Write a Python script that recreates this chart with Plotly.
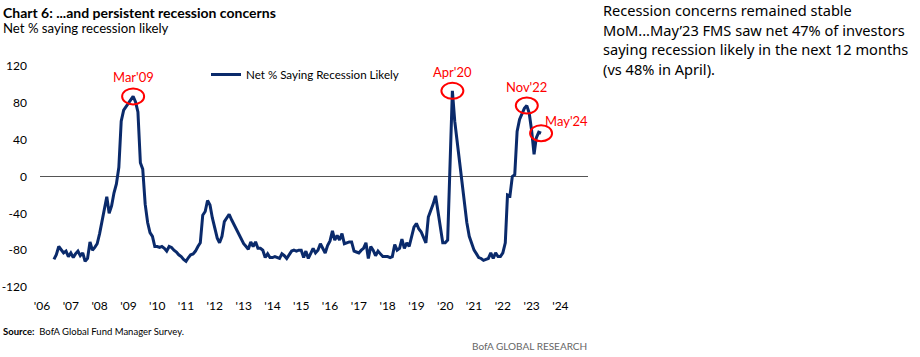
import pandas as pd
import plotly.graph_objects as go

# ---------------- data (monthly, net % saying recession likely) ----------------
start_month = "2006-06-01"
v2006 = [-90, -85, -76, -80, -83, -81, -87]                      # Jun-Dec
v2007 = [-83, -88, -84, -81, -86, -83, -92, -89, -71, -80, -77, -73]
v2008 = [-62, -48, -35, -22, -40, -32, -18, -8, 10, 60, 72, 76]
v2009 = [79, 83, 87, 81, 70, 15, 8, -30, -50, -61, -65, -76]
v2010 = [-76, -77, -76, -78, -81, -76, -77, -80, -82, -85, -87, -90]
v2011 = [-92, -88, -85, -84, -81, -76, -72, -42, -38, -26, -31, -45]
v2012 = [-58, -67, -72, -65, -49, -45, -41, -47, -52, -57, -63, -67]
v2013 = [-73, -76, -79, -71, -76, -71, -78, -78, -80, -88, -84, -88]
v2014 = [-88, -87, -88, -89, -84, -86, -89, -85, -81, -80, -81, -80]
v2015 = [-80, -88, -81, -89, -84, -78, -83, -80, -73, -78, -83, -75]
v2016 = [-70, -59, -69, -64, -69, -62, -73, -72, -71, -71, -81, -82]
v2017 = [-83, -80, -78, -72, -89, -76, -80, -86, -81, -84, -87, -87]
v2018 = [-87, -88, -87, -74, -80, -78, -68, -78, -72, -76, -65, -55]
v2019 = [-51, -57, -60, -66, -72, -44, -38, -30, -21, -40, -55, -72]
v2020 = [-72, -69, 0, 93, 60, 38, 22, -5, -22, -50, -65, -72]
v2021 = [-80, -84, -88, -89, -91, -90, -89, -83, -89, -83, -87, -87]
v2022 = [-83, -72, -20, -21, 0, 2, 49, 62, 68, 74, 77, 69]
v2023 = [50, 24, 42, 48, 47]                                      # Jan-May

values = (v2006 + v2007 + v2008 + v2009 + v2010 + v2011 + v2012 + v2013 + v2014
          + v2015 + v2016 + v2017 + v2018 + v2019 + v2020 + v2021 + v2022 + v2023)
dates = pd.date_range(start_month, periods=len(values), freq="MS")
series = pd.Series(values, index=dates)

series_name = "Net % Saying Recession Likely"
y_ticks = [120, 80, 40, 0, -40, -80, -120]
x_tick_years = list(range(2006, 2025))
x_tick_labels = ["'" + str(y)[2:] for y in x_tick_years]

# highlighted points: (label, date)
highlights = [("Mar'09", "2009-03-01"), ("Apr'20", "2020-04-01"),
              ("Nov'22", "2022-11-01"), ("May'24", "2023-05-01")]

title = "<b>Chart 6: ...and persistent recession concerns</b>"
subtitle = "Net % saying recession likely"
source = "<b>Source:</b>  BofA Global Fund Manager Survey."
brand = "BofA GLOBAL RESEARCH"
side_lines = ["Recession concerns remained stable",
              "MoM...May\u201923 FMS saw net 47% of investors",
              "saying recession likely in the next 12 months",
              "(vs 48% in April)."]

# ---------------- style ----------------
W, H = 920, 357
PLOT_L, PLOT_R, PLOT_T, PLOT_B = 40, 588, 60, 293   # target screen pixels
L = PLOT_L
R = W - PLOT_R
T = PLOT_T
B = H - PLOT_B
NAVY = "#0A2A6B"
RED = "#FF0000"
NARROW = "Lato, Roboto, sans-serif"
SIDE = "Noto Sans, Open Sans, sans-serif"
PW = W - L - R
PH = H - T - B


def px(x):
    return (x - L) / PW


def py(y):
    return (H - B - y) / PH


fig = go.Figure()
fig.add_trace(go.Scatter(x=series.index, y=series.values, mode="lines",
                         name=series_name, line=dict(color=NAVY, width=3)))

fig.update_layout(
    width=W, height=H,
    margin=dict(l=L, r=R, t=T, b=B, autoexpand=False),
    paper_bgcolor="white", plot_bgcolor="white",
    font=dict(family=NARROW, size=12, color="#000000"),
    showlegend=True,
    legend=dict(x=px(206), y=py(60), xanchor="left", yanchor="top",
                bgcolor="rgba(0,0,0,0)", font=dict(size=11.6, family=NARROW),
                itemwidth=30, tracegroupgap=0),
    xaxis=dict(type="date", automargin=False,
               range=["2005-12-06", "2024-12-16"],
               tickvals=[f"{y}-01-01" for y in x_tick_years],
               ticktext=x_tick_labels,
               showgrid=False, zeroline=False, showline=False, ticks="",
               ticklabelstandoff=4,
               tickfont=dict(size=12, family=NARROW)),
    yaxis=dict(range=[-126.5, 126.5], tickvals=y_ticks, automargin=False,
               ticktext=[str(v) for v in y_ticks],
               showgrid=False, zeroline=True, zerolinecolor="#555555",
               zerolinewidth=1.3, showline=False, ticks="",
               ticklabelstandoff=12,
               tickfont=dict(size=12, family=NARROW)),
)

shapes = []
annotations = []
for label, d in highlights:
    ts = pd.Timestamp(d)
    v = float(series[ts])
    shapes.append(dict(type="circle", xref="x", yref="y",
                       xsizemode="pixel", ysizemode="pixel",
                       xanchor=ts, yanchor=v,
                       x0=-11, x1=11, y0=-8, y1=8,
                       line=dict(color=RED, width=2)))
    if label == "May'24":
        annotations.append(dict(x=ts, y=v, xref="x", yref="y", text=label,
                                showarrow=False, xshift=25, yshift=12,
                                font=dict(color=RED, size=13, family=NARROW)))
    else:
        annotations.append(dict(x=ts, y=v, xref="x", yref="y", text=label,
                                showarrow=False, yshift=19,
                                font=dict(color=RED, size=13, family=NARROW)))

# text blocks
annotations += [
    dict(x=px(1), y=py(12), xref="paper", yref="paper", xanchor="left",
         yanchor="middle", text=title, showarrow=False,
         font=dict(size=14, family=NARROW, color="#000")),
    dict(x=px(1), y=py(28), xref="paper", yref="paper", xanchor="left",
         yanchor="middle", text=subtitle, showarrow=False,
         font=dict(size=13.2, family=NARROW, color="#000")),
    dict(x=px(1), y=py(331), xref="paper", yref="paper", xanchor="left",
         yanchor="middle", text=source, showarrow=False,
         font=dict(size=9.5, family=NARROW, color="#000")),
    dict(x=px(589), y=py(346), xref="paper", yref="paper", xanchor="right",
         yanchor="middle", text=brand, showarrow=False,
         font=dict(size=10, family=NARROW, color="#666666")),
]
for i, line in enumerate(side_lines):
    annotations.append(dict(x=px(601), y=py(10 + 19.7 * i), xref="paper",
                            yref="paper", xanchor="left", yanchor="middle",
                            align="left", text=line, showarrow=False,
                            font=dict(size=14.6, family=SIDE, color="#000")))
fig.update_layout(shapes=shapes, annotations=annotations)

fig.write_html("out.html",
               config={"displayModeBar": False},
               post_script="document.body.style.margin='0px';"
                           "document.body.style.padding='0px';")
